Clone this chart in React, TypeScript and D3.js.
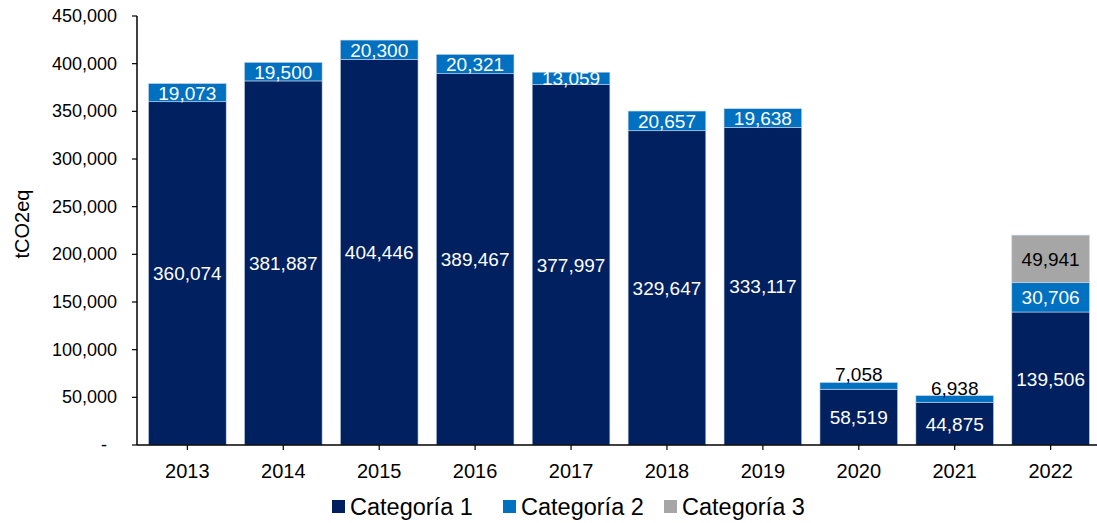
import React, { useEffect, useRef } from 'react';
import * as d3 from 'd3';

const years = ['2013', '2014', '2015', '2016', '2017', '2018', '2019', '2020', '2021', '2022'];
const categoria1 = [360074, 381887, 404446, 389467, 377997, 329647, 333117, 58519, 44875, 139506];
const categoria2 = [19073, 19500, 20300, 20321, 13059, 20657, 19638, 7058, 6938, 30706];
const categoria3 = [0, 0, 0, 0, 0, 0, 0, 0, 0, 49941];
const seriesNames = ['Categoría 1', 'Categoría 2', 'Categoría 3'];
const yTicks = [0, 50000, 100000, 150000, 200000, 250000, 300000, 350000, 400000, 450000];

const colors = ['#002060', '#0070C0', '#A6A6A6'];
const FONT = 'Arial, "Liberation Sans", sans-serif';

const App: React.FC = () => {
  const svgRef = useRef<SVGSVGElement>(null);

  useEffect(() => {
    if (!svgRef.current) return;
    document.body.style.margin = '0';

    const width = 1097;
    const height = 523;
    const left = 137;
    const right = 1101;
    const top = 16;
    const bottom = 445;

    const svg = d3.select(svgRef.current);
    svg.selectAll('*').remove();
    svg.attr('width', width).attr('height', height).style('background', '#fff');

    const x = d3.scaleBand<string>().domain(years).range([left, right]).paddingInner(0.19).paddingOuter(0.12);
    const y = d3.scaleLinear().domain([0, 450000]).range([bottom, top]);

    const table = years.map((yr, i) => ({
      year: yr,
      c1: categoria1[i],
      c2: categoria2[i],
      c3: categoria3[i],
    }));
    const keys = ['c1', 'c2', 'c3'];
    const stacked = d3.stack<any>().keys(keys)(table);

    const fmt = d3.format(',');

    // bars
    stacked.forEach((layer, li) => {
      const g = svg.append('g');
      layer.forEach((d, i) => {
        const v = d[1] - d[0];
        if (v <= 0) return;
        g.append('rect')
          .attr('x', x(years[i])!)
          .attr('y', y(d[1]))
          .attr('width', x.bandwidth())
          .attr('height', y(d[0]) - y(d[1]))
          .attr('fill', colors[li])
          .attr('stroke', '#c9d6ea')
          .attr('stroke-width', 0.6);
      });
    });

    // labels
    stacked.forEach((layer, li) => {
      layer.forEach((d, i) => {
        const v = d[1] - d[0];
        if (v <= 0) return;
        const cx = x(years[i])! + x.bandwidth() / 2;
        const segH = y(d[0]) - y(d[1]);
        const small = segH < 10;
        const ty = small ? y(d[1]) - 1 : (y(d[0]) + y(d[1])) / 2 + 7;
        const fill = li === 2 || small ? '#000' : '#fff';
        svg.append('text')
          .attr('x', cx)
          .attr('y', ty)
          .attr('text-anchor', 'middle')
          .attr('font-family', FONT)
          .attr('font-size', 19)
          .attr('fill', fill)
          .text(fmt(v));
      });
    });

    // y axis
    const yAxis = svg.append('g');
    yAxis.append('line')
      .attr('x1', left).attr('x2', left)
      .attr('y1', top).attr('y2', bottom)
      .attr('stroke', '#000').attr('stroke-width', 1.5);
    yTicks.forEach(t => {
      yAxis.append('line')
        .attr('x1', left - 5).attr('x2', left)
        .attr('y1', y(t)).attr('y2', y(t))
        .attr('stroke', '#000').attr('stroke-width', 1.2);
      yAxis.append('text')
        .attr('x', t === 0 ? 107 : 117)
        .attr('y', y(t) + 6)
        .attr('text-anchor', 'end')
        .attr('font-family', FONT)
        .attr('font-size', 18)
        .attr('fill', '#000')
        .text(t === 0 ? '-' : fmt(t));
    });

    svg.append('text')
      .attr('transform', `translate(29,224) rotate(-90)`)
      .attr('text-anchor', 'middle')
      .attr('font-family', FONT)
      .attr('font-size', 20)
      .attr('fill', '#000')
      .text('tCO2eq');

    // x axis
    const xAxis = svg.append('g');
    xAxis.append('line')
      .attr('x1', left).attr('x2', width)
      .attr('y1', bottom).attr('y2', bottom)
      .attr('stroke', '#000').attr('stroke-width', 1.5);
    years.forEach(yr => {
      const cx = x(yr)! + x.bandwidth() / 2;
      xAxis.append('line')
        .attr('x1', cx).attr('x2', cx)
        .attr('y1', bottom).attr('y2', bottom + 5)
        .attr('stroke', '#000').attr('stroke-width', 1.2);
      xAxis.append('text')
        .attr('x', cx)
        .attr('y', 478)
        .attr('text-anchor', 'middle')
        .attr('font-family', FONT)
        .attr('font-size', 20)
        .attr('fill', '#000')
        .text(yr);
    });

    // legend
    const legendX = [332, 503, 664];
    seriesNames.forEach((name, i) => {
      svg.append('rect')
        .attr('x', legendX[i]).attr('y', 500)
        .attr('width', 13).attr('height', 13)
        .attr('fill', colors[i]);
      svg.append('text')
        .attr('x', legendX[i] + 18)
        .attr('y', 515)
        .attr('font-family', FONT)
        .attr('font-size', 23.5)
        .attr('fill', '#000')
        .text(name);
    });
  }, []);

  return <svg ref={svgRef}></svg>;
};

export default App;
